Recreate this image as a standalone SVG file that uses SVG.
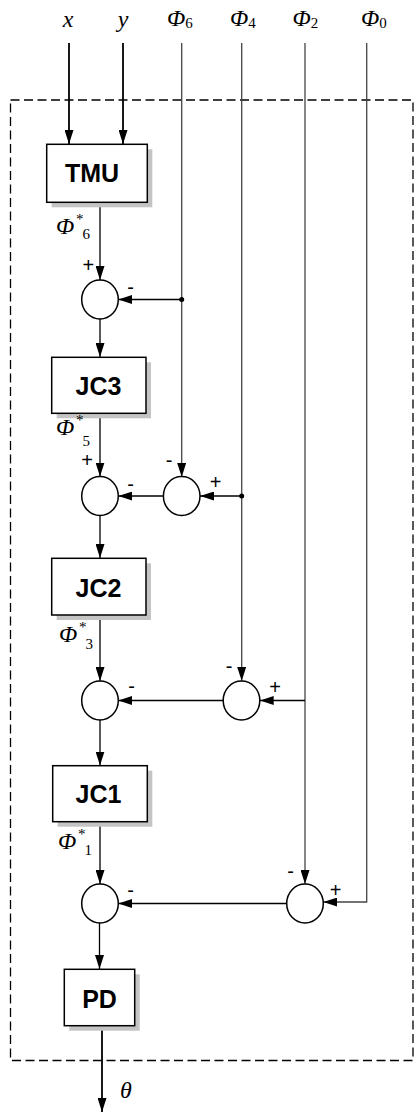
<svg xmlns="http://www.w3.org/2000/svg" width="414" height="1112" viewBox="0 0 414 1112">
<defs>
<marker id="ah" markerUnits="userSpaceOnUse" markerWidth="14" markerHeight="9" refX="14" refY="4.5" orient="auto">
<path d="M0,0 L14,4.5 L0,9 z" fill="#000"/>
</marker>
</defs>
<style>
.ln{fill:none;stroke:#000;stroke-width:1.3}
.thk{stroke-width:1.8}
.gry{stroke:#444}
.box{fill:#fff;stroke:#000;stroke-width:1.5}
.sh{fill:#c4c4c4}
.sum{fill:#fff;stroke:#000;stroke-width:1.5}
.bl{font-family:"Liberation Sans",Arial,sans-serif;font-weight:bold;font-size:25px;text-anchor:middle}
.it{font-family:"Liberation Serif","Times New Roman",serif;font-style:italic;font-size:24px}
.sub{font-family:"Liberation Serif","Times New Roman",serif;font-style:normal;font-size:15px}
.sg{font-family:"Liberation Sans",Arial,sans-serif;font-size:20px;text-anchor:middle}
</style>
<rect x="10.5" y="100" width="402.5" height="960.5" fill="none" stroke="#000" stroke-width="1.3" stroke-dasharray="9,4.5"/>
<g id="connectors">
<line class="ln thk" x1="69" y1="43" x2="69" y2="144" marker-end="url(#ah)"/>
<line class="ln thk" x1="123" y1="43" x2="123" y2="144" marker-end="url(#ah)"/>
<line class="ln" x1="100" y1="202" x2="100" y2="280" marker-end="url(#ah)"/>
<line class="ln gry" x1="181.7" y1="43" x2="181.7" y2="477" marker-end="url(#ah)"/>
<circle cx="181.7" cy="299.5" r="2.5" fill="#000"/>
<line class="ln" x1="181.7" y1="299.5" x2="118.3" y2="299.5" marker-end="url(#ah)"/>
<line class="ln" x1="100" y1="319" x2="100" y2="357" marker-end="url(#ah)"/>
<line class="ln" x1="100" y1="413" x2="100" y2="476.5" marker-end="url(#ah)"/>
<line class="ln gry" x1="241.7" y1="43" x2="241.7" y2="681" marker-end="url(#ah)"/>
<circle cx="241.7" cy="496" r="2.5" fill="#000"/>
<line class="ln" x1="241.7" y1="496" x2="200" y2="496" marker-end="url(#ah)"/>
<line class="ln" x1="163.4" y1="496" x2="118.3" y2="496" marker-end="url(#ah)"/>
<line class="ln" x1="100" y1="515.5" x2="100" y2="558" marker-end="url(#ah)"/>
<line class="ln" x1="100" y1="615" x2="100" y2="681" marker-end="url(#ah)"/>
<line class="ln gry" x1="305" y1="43" x2="305" y2="884" marker-end="url(#ah)"/>
<line class="ln" x1="305" y1="700.5" x2="259.7" y2="700.5" marker-end="url(#ah)"/>
<line class="ln" x1="223.4" y1="700.5" x2="118.3" y2="700.5" marker-end="url(#ah)"/>
<line class="ln" x1="100" y1="720" x2="100" y2="765.5" marker-end="url(#ah)"/>
<line class="ln" x1="100" y1="821.7" x2="100" y2="884" marker-end="url(#ah)"/>
<polyline class="ln gry" points="366.7,43 366.7,902 323.3,902" marker-end="url(#ah)"/>
<line class="ln" x1="286.7" y1="903.5" x2="118.3" y2="903.5" marker-end="url(#ah)"/>
<line class="ln" x1="99.5" y1="923" x2="99.5" y2="969" marker-end="url(#ah)"/>
<line class="ln thk" x1="102" y1="1026" x2="102" y2="1112" marker-end="url(#ah)"/>
</g>
<g id="TMU">
<rect class="sh" x="51.7" y="149.3" width="100.6" height="58"/>
<rect class="box" x="46.7" y="144.3" width="100.6" height="58"/>
<text class="bl" x="92" y="182">TMU</text>
</g>
<g id="JC3">
<rect class="sh" x="56.7" y="362.3" width="94.3" height="56"/>
<rect class="box" x="51.7" y="357.3" width="94.3" height="56"/>
<text class="bl" x="98.5" y="395">JC3</text>
</g>
<g id="JC2">
<rect class="sh" x="56.7" y="563.3" width="94.3" height="56.7"/>
<rect class="box" x="51.7" y="558.3" width="94.3" height="56.7"/>
<text class="bl" x="98.5" y="596.5">JC2</text>
</g>
<g id="JC1">
<rect class="sh" x="57.7" y="770.7" width="94.6" height="56"/>
<rect class="box" x="52.7" y="765.7" width="94.6" height="56"/>
<text class="bl" x="98.5" y="803.3">JC1</text>
</g>
<g id="PD">
<rect class="sh" x="69.3" y="974.3" width="70.4" height="56.4"/>
<rect class="box" x="64.3" y="969.3" width="70.4" height="56.4"/>
<text class="bl" x="99.5" y="1008.3">PD</text>
</g>
<g id="sum1"><ellipse class="sum" cx="100" cy="299.5" rx="18.3" ry="19.5"/></g>
<g id="sum2"><ellipse class="sum" cx="100" cy="496" rx="18.3" ry="19.5"/></g>
<g id="sum3"><ellipse class="sum" cx="181.7" cy="496" rx="18.3" ry="19.5"/></g>
<g id="sum4"><ellipse class="sum" cx="100" cy="700.5" rx="18.3" ry="19.5"/></g>
<g id="sum5"><ellipse class="sum" cx="241.5" cy="700.5" rx="18.3" ry="19.5"/></g>
<g id="sum6"><ellipse class="sum" cx="100" cy="903.5" rx="18.3" ry="19.5"/></g>
<g id="sum7"><ellipse class="sum" cx="305" cy="903.5" rx="18.3" ry="19.5"/></g>
<g id="labels">
<text class="it" x="68" y="27" text-anchor="middle">x</text>
<text class="it" x="123" y="27" text-anchor="middle">y</text>
<text class="it" x="167" y="26">Φ<tspan class="sub" dy="2">6</tspan></text>
<text class="it" x="230" y="26">Φ<tspan class="sub" dy="2">4</tspan></text>
<text class="it" x="292.5" y="26">Φ<tspan class="sub" dy="2">2</tspan></text>
<text class="it" x="361" y="26">Φ<tspan class="sub" dy="2">0</tspan></text>
<text class="it" x="120" y="1098">θ</text>
<text class="it" x="56" y="234">Φ</text><text class="sub" x="76" y="224">*</text><text class="sub" x="82.5" y="238.5">6</text>
<text class="it" x="56" y="435">Φ</text><text class="sub" x="76" y="425">*</text><text class="sub" x="82.5" y="446">5</text>
<text class="it" x="59" y="642">Φ</text><text class="sub" x="79" y="632">*</text><text class="sub" x="85.5" y="649">3</text>
<text class="it" x="58" y="849">Φ</text><text class="sub" x="78" y="839">*</text><text class="sub" x="84.5" y="855">1</text>
<text class="sg" x="88.3" y="272">+</text>
<text class="sg" x="130.7" y="294">-</text>
<text class="sg" x="87" y="467">+</text>
<text class="sg" x="169" y="467">-</text>
<text class="sg" x="130.7" y="491">-</text>
<text class="sg" x="215.7" y="488.5">+</text>
<text class="sg" x="229" y="672.5">-</text>
<text class="sg" x="275" y="693.5">+</text>
<text class="sg" x="131.7" y="692.5">-</text>
<text class="sg" x="290.7" y="877.5">-</text>
<text class="sg" x="335.7" y="897">+</text>
<text class="sg" x="130.7" y="897">-</text>
</g>
</svg>
